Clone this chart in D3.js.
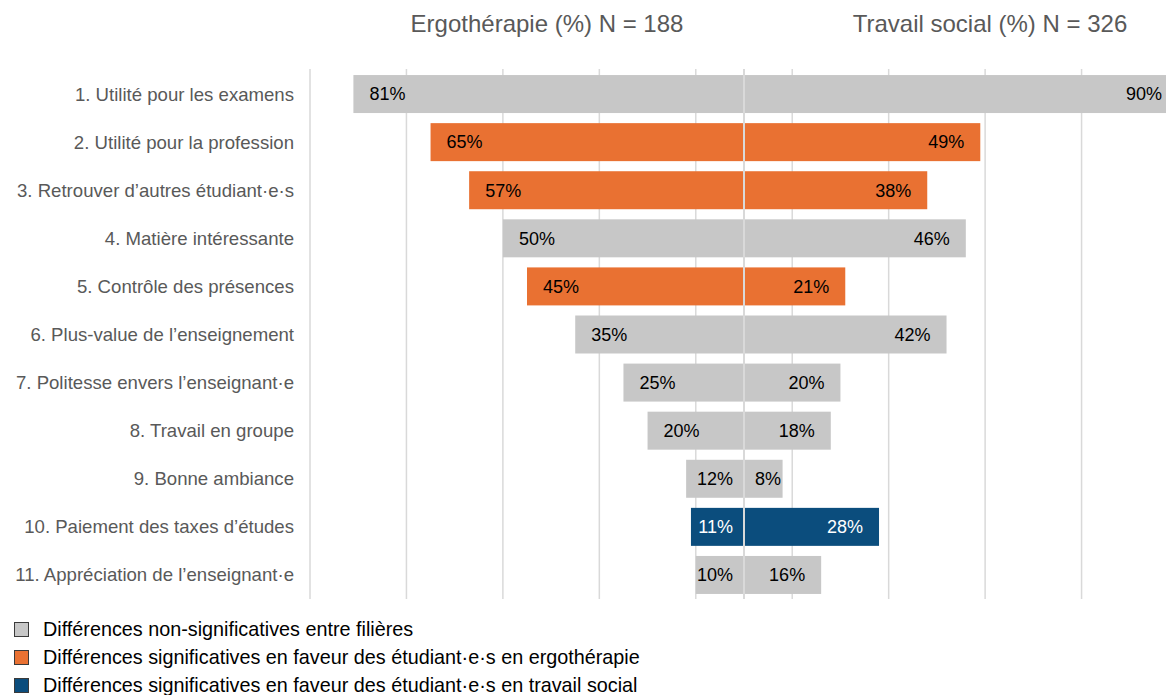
<!DOCTYPE html>
<html>
<head>
<meta charset="utf-8">
<script src="https://cdn.jsdelivr.net/npm/d3@7"></script>
<style>
  html, body { margin: 0; padding: 0; background: #fff; }
  svg { display: block; font-family: "Liberation Sans", Arial, sans-serif; }
</style>
</head>
<body>
<svg id="chart" width="1166" height="695"></svg>
<script>
// Reasons given by students, by programme
const categories = [
  "1. Utilité pour les examens",
  "2. Utilité pour la profession",
  "3. Retrouver d\u2019autres étudiant\u00b7e\u00b7s",
  "4. Matière intéressante",
  "5. Contrôle des présences",
  "6. Plus-value de l\u2019enseignement",
  "7. Politesse envers l\u2019enseignant\u00b7e",
  "8. Travail en groupe",
  "9. Bonne ambiance",
  "10. Paiement des taxes d\u2019études",
  "11. Appréciation de l\u2019enseignant\u00b7e"
];
const ergoValues    = [81, 65, 57, 50, 45, 35, 25, 20, 12, 11, 10];
const travailValues = [90, 49, 38, 46, 21, 42, 20, 18,  8, 28, 16];
// ns = non-significant, ergo / social = significant difference in favour of that programme
const significance  = ["ns", "ergo", "ergo", "ns", "ergo", "ns", "ns", "ns", "ns", "social", "ns"];

const headers = ["Ergothérapie (%) N = 188", "Travail social (%) N = 326"];
const legendKeys   = ["ns", "ergo", "social"];
const legendLabels = [
  "Différences non-significatives entre filières",
  "Différences significatives en faveur des étudiant\u00b7e\u00b7s en ergothérapie",
  "Différences significatives en faveur des étudiant\u00b7e\u00b7s en travail social"
];
const gridTicks = [-90, -70, -50, -30, -10, 10, 30, 50, 70, 90];

const colors = { ns: "#C7C7C7", ergo: "#E97132", social: "#0B4D7D" };
const labelColors = { ns: "#000000", ergo: "#000000", social: "#FFFFFF" };

const svg = d3.select("#chart");

// Diverging scale: Ergothérapie to the left of zero, Travail social to the right
const x = d3.scaleLinear().domain([-90, 90]).range([310, 1178]);
const y = d3.scaleBand().domain(categories).range([70, 599]).paddingInner(0.21).paddingOuter(0.105);

// Vertical gridlines
svg.append("g")
  .selectAll("line")
  .data(gridTicks)
  .join("line")
  .attr("x1", d => x(d)).attr("x2", d => x(d))
  .attr("y1", 69).attr("y2", 599)
  .attr("stroke", "#D9D9D9")
  .attr("stroke-width", 1.5);

const rows = categories.map((c, i) => ({
  cat: c, ergo: ergoValues[i], travail: travailValues[i], sig: significance[i]
}));

// Bars
const bars = svg.append("g");
bars.selectAll("rect.left")
  .data(rows)
  .join("rect")
  .attr("class", "left")
  .attr("x", d => x(-d.ergo))
  .attr("width", d => x(0) - x(-d.ergo))
  .attr("y", d => y(d.cat))
  .attr("height", y.bandwidth())
  .attr("fill", d => colors[d.sig]);
bars.selectAll("rect.right")
  .data(rows)
  .join("rect")
  .attr("class", "right")
  .attr("x", x(0))
  .attr("width", d => x(d.travail) - x(0))
  .attr("y", d => y(d.cat))
  .attr("height", y.bandwidth())
  .attr("fill", d => colors[d.sig]);

// Zero axis line drawn over the bars
svg.append("line")
  .attr("x1", x(0)).attr("x2", x(0))
  .attr("y1", 69).attr("y2", 599)
  .attr("stroke", "#D9D9D9")
  .attr("stroke-width", 2);

// Value labels at the outer end of each bar
const valueFont = 18;
function inset(barWidth, textWidth) {
  const free = barWidth - textWidth;
  return Math.min(16, Math.max(0, free - 11));
}
const lbl = svg.append("g").attr("font-size", valueFont);
lbl.selectAll("text.left")
  .data(rows)
  .join("text")
  .attr("class", "left")
  .attr("y", d => y(d.cat) + y.bandwidth() / 2)
  .attr("dy", "0.35em")
  .attr("fill", d => labelColors[d.sig])
  .text(d => d.ergo + "%")
  .each(function(d) {
    const w = this.getComputedTextLength();
    const bw = x(0) - x(-d.ergo);
    d3.select(this).attr("x", x(-d.ergo) + inset(bw, w)).attr("text-anchor", "start");
  });
lbl.selectAll("text.right")
  .data(rows)
  .join("text")
  .attr("class", "right")
  .attr("y", d => y(d.cat) + y.bandwidth() / 2)
  .attr("dy", "0.35em")
  .attr("fill", d => labelColors[d.sig])
  .text(d => d.travail + "%")
  .each(function(d) {
    const w = this.getComputedTextLength();
    const bw = x(d.travail) - x(0);
    d3.select(this).attr("x", x(d.travail) - inset(bw, w)).attr("text-anchor", "end");
  });

// Category labels
svg.append("g")
  .selectAll("text")
  .data(categories)
  .join("text")
  .attr("x", 294)
  .attr("y", d => y(d) + y.bandwidth() / 2)
  .attr("dy", "0.35em")
  .attr("text-anchor", "end")
  .attr("font-size", 18.6)
  .attr("fill", "#595959")
  .text(d => d);

// Column headers
svg.append("g")
  .selectAll("text")
  .data(headers)
  .join("text")
  .attr("x", (d, i) => i === 0 ? 547 : 990)
  .attr("y", 32)
  .attr("text-anchor", "middle")
  .attr("font-size", 24)
  .attr("fill", "#595959")
  .text(d => d);

// Legend
const legend = svg.append("g")
  .selectAll("g")
  .data(legendKeys)
  .join("g")
  .attr("transform", (d, i) => `translate(14, ${629 + i * 28})`);
legend.append("rect")
  .attr("x", 0.5).attr("y", -6.5)
  .attr("width", 14).attr("height", 14)
  .attr("fill", d => colors[d])
  .attr("stroke", "#3A3A3A")
  .attr("stroke-width", 1);
legend.append("text")
  .attr("x", 29)
  .attr("y", 0.5)
  .attr("dy", "0.35em")
  .attr("font-size", 19.8)
  .attr("fill", "#000000")
  .text((d, i) => legendLabels[i]);
</script>
</body>
</html>
